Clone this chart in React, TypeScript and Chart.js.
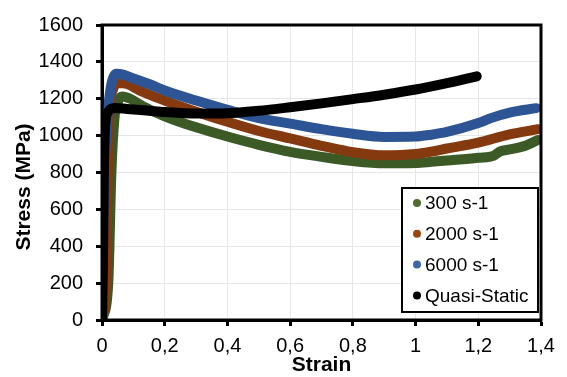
import React, { useEffect, useRef } from "react";
import { Chart, registerables } from "chart.js";

Chart.register(...registerables);

const seriesLabels = ["300 s-1", "2000 s-1", "6000 s-1", "Quasi-Static"];
const seriesColors = ["#3b5a26", "#85390f", "#2d5596", "#000000"];
const legendColors = ["#4e6e30", "#9a4612", "#3d66a8", "#000000"];

const strain300 = [0, 0.02, 0.03, 0.04, 0.05, 0.065, 0.09, 0.13, 0.2, 0.3, 0.4, 0.5, 0.6, 0.7, 0.8, 0.9, 1.0, 1.05, 1.1, 1.2, 1.25, 1.27, 1.3, 1.35, 1.39];
const stress300 = [0, 200, 800, 1100, 1180, 1212, 1200, 1160, 1105, 1045, 995, 950, 912, 885, 862, 850, 852, 858, 865, 880, 892, 915, 925, 945, 976];

const strain2000 = [0, 0.012, 0.018, 0.025, 0.035, 0.05, 0.08, 0.12, 0.2, 0.3, 0.4, 0.5, 0.6, 0.7, 0.8, 0.9, 1.0, 1.05, 1.1, 1.2, 1.3, 1.39];
const stress2000 = [0, 200, 800, 1150, 1250, 1285, 1280, 1245, 1190, 1130, 1075, 1025, 985, 945, 910, 893, 900, 913, 930, 962, 1007, 1035];

const strain6000 = [0, 0.005, 0.01, 0.02, 0.03, 0.045, 0.07, 0.1, 0.15, 0.2, 0.3, 0.4, 0.5, 0.6, 0.7, 0.8, 0.9, 1.0, 1.05, 1.1, 1.2, 1.24, 1.3, 1.385];
const stress6000 = [0, 600, 900, 1150, 1280, 1335, 1330, 1310, 1280, 1245, 1190, 1140, 1095, 1065, 1035, 1010, 993, 995, 1005, 1020, 1068, 1095, 1125, 1149];

const strainQS = [0, 0.003, 0.006, 0.01, 0.02, 0.04, 0.08, 0.15, 0.2, 0.3, 0.4, 0.5, 0.6, 0.7, 0.8, 0.9, 1.0, 1.1, 1.195];
const stressQS = [0, 300, 800, 1050, 1130, 1150, 1145, 1135, 1128, 1120, 1122, 1135, 1154, 1175, 1198, 1222, 1250, 1285, 1322];

const xTicks = [0, 0.2, 0.4, 0.6, 0.8, 1, 1.2, 1.4];
const yTicks = [0, 200, 400, 600, 800, 1000, 1200, 1400, 1600];

const FONT = "'Liberation Sans', Arial, sans-serif";

const toPoints = (xs: number[], ys: number[]) => xs.map((x, i) => ({ x, y: ys[i] }));

const decorPlugin = {
  id: "decor",
  afterDatasetsDraw(chart: any) {
    const { ctx, chartArea } = chart;
    ctx.save();
    ctx.strokeStyle = "#000";
    ctx.lineWidth = 3;
    ctx.strokeRect(chartArea.left, chartArea.top, chartArea.right - chartArea.left, chartArea.bottom - chartArea.top);
    ctx.restore();
  },
  afterDraw(chart: any) {
    const { ctx, chartArea } = chart;
    ctx.save();
    const lx = 402, ly = 188, lw = 136, lh = 124;
    ctx.fillStyle = "#fff";
    ctx.fillRect(lx, ly, lw, lh);
    ctx.strokeStyle = "#000";
    ctx.lineWidth = 2;
    ctx.strokeRect(lx, ly, lw, lh);
    ctx.font = `19px ${FONT}`;
    ctx.textBaseline = "middle";
    ctx.textAlign = "left";
    seriesLabels.forEach((lab, i) => {
      const cy = 203 + i * 30.8;
      ctx.beginPath();
      ctx.fillStyle = legendColors[i];
      ctx.arc(417, cy, 4, 0, Math.PI * 2);
      ctx.fill();
      ctx.fillStyle = "#000";
      ctx.fillText(lab, 425, cy + 1);
    });
    ctx.fillStyle = "#000";
    ctx.font = `bold 21px ${FONT}`;
    ctx.textAlign = "center";
    ctx.textBaseline = "middle";
    ctx.fillText("Strain", (chartArea.left + chartArea.right) / 2, 365);
    ctx.translate(24, 187);
    ctx.rotate(-Math.PI / 2);
    ctx.fillText("Stress (MPa)", 0, 0);
    ctx.restore();
  },
};

export default function App() {
  const ref = useRef<HTMLCanvasElement>(null);
  useEffect(() => {
    if (!ref.current) return;
    const mk = (i: number, xs: number[], ys: number[], order: number) => ({
      label: seriesLabels[i],
      data: toPoints(xs, ys),
      borderColor: seriesColors[i],
      backgroundColor: seriesColors[i],
      borderWidth: 10,
      pointRadius: 0,
      borderCapStyle: "round",
      borderJoinStyle: "round",
      cubicInterpolationMode: "monotone",
      fill: false,
      order,
    });
    const chart = new Chart(ref.current, {
      type: "line",
      data: {
        datasets: [
          mk(0, strain300, stress300, 3),
          mk(1, strain2000, stress2000, 2),
          mk(2, strain6000, stress6000, 1),
          mk(3, strainQS, stressQS, 0),
        ] as any,
      },
      options: {
        responsive: false,
        animation: false,
        layout: { padding: { top: 15, right: 26, left: 0, bottom: 0 } },
        plugins: { legend: { display: false }, tooltip: { enabled: false }, title: { display: false } },
        scales: {
          x: {
            type: "linear",
            min: 0,
            max: 1.4,
            afterFit(scale: any) { scale.height = 57; },
            afterBuildTicks(scale: any) { scale.ticks = xTicks.map((v) => ({ value: v })); },
            ticks: {
              font: { family: FONT, size: 20 },
              color: "#000",
              padding: 8,
              maxRotation: 0,
              callback: (v: any) => String(Math.round(Number(v) * 10) / 10).replace(".", ","),
            },
            grid: { color: "#e6e6e6", lineWidth: 1, tickColor: "#000", tickWidth: 3, tickLength: 6 },
            border: { display: true, color: "#000", width: 3 },
          },
          y: {
            type: "linear",
            min: 0,
            max: 1600,
            afterFit(scale: any) { scale.width = 102; },
            afterBuildTicks(scale: any) { scale.ticks = yTicks.map((v) => ({ value: v })); },
            ticks: {
              font: { family: FONT, size: 20 },
              color: "#000",
              padding: 13,
              callback: (v: any) => String(Math.round(Number(v))),
            },
            grid: { color: "#e6e6e6", lineWidth: 1, tickColor: "#000", tickWidth: 3, tickLength: 6 },
            border: { display: true, color: "#000", width: 3 },
          },
        },
      },
      plugins: [decorPlugin],
    } as any);
    return () => chart.destroy();
  }, []);
  return (
    <div style={{ position: "absolute", left: 0, top: 0, width: 567, height: 377, background: "#fff" }}>
      <canvas ref={ref} width={567} height={377} />
    </div>
  );
}
